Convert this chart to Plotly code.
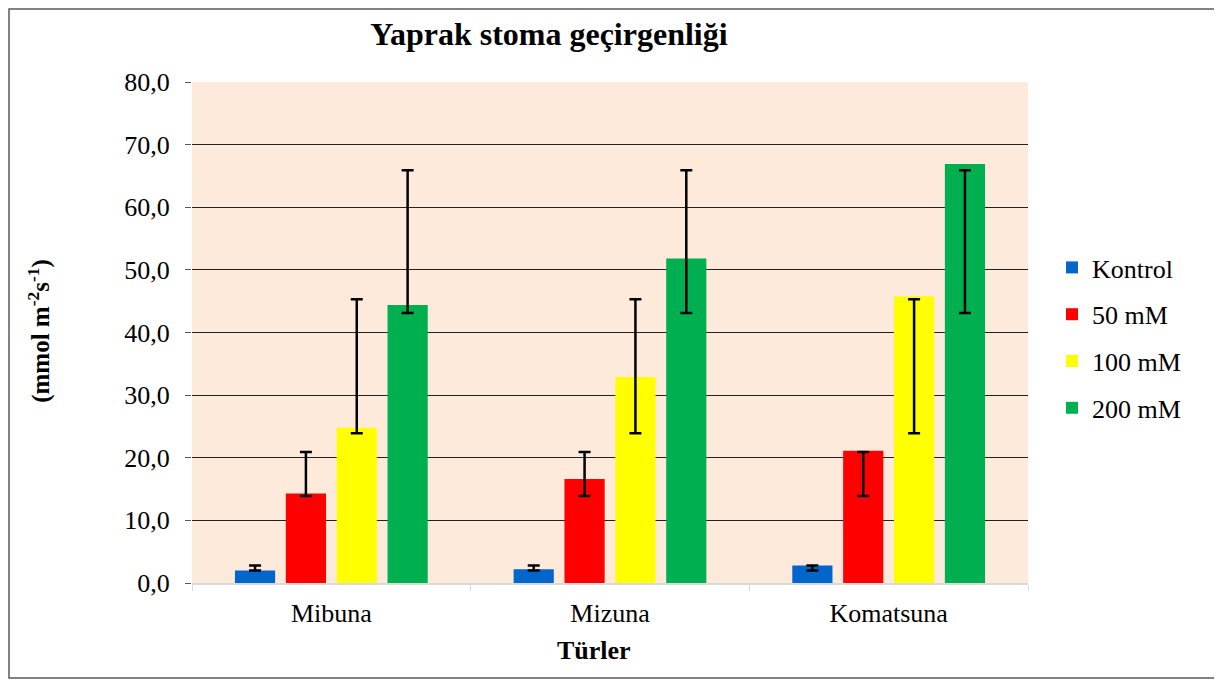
import plotly.graph_objects as go

# Data
species = ["Mibuna", "Mizuna", "Komatsuna"]
treatments = ["Kontrol", "50 mM", "100 mM", "200 mM"]
colors = ["#0066CC", "#FF0000", "#FFFF00", "#00B050"]

kontrol = [2.0, 2.2, 2.8]
mm50 = [14.3, 16.6, 21.1]
mm100 = [24.8, 32.9, 45.8]
mm200 = [44.4, 51.8, 66.9]

# error bar ends (same for every species in the source)
err_low = [2.0, 13.9, 23.9, 43.1]
err_high = [2.8, 20.9, 45.3, 65.9]

series = [kontrol, mm50, mm100, mm200]

font_family = "Liberation Serif, Times New Roman, serif"

fig = go.Figure()

for i, (name, vals, color) in enumerate(zip(treatments, series, colors)):
    # error ends are fixed, so the "plus" part can fall below the bar top
    plus = [err_high[i] - v for v in vals]
    minus = [v - err_low[i] for v in vals]
    fig.add_trace(go.Bar(
        x=species,
        y=vals,
        name=name,
        legendgroup=name,
        marker=dict(color=color, line=dict(width=0)),
        error_y=dict(type="data", symmetric=False, array=plus, arrayminus=minus,
                     color="black", thickness=2.5, width=6),
    ))

fig.update_layout(
    width=1222,
    height=682,
    barmode="group",
    bargap=0.27,
    bargroupgap=0.21,
    paper_bgcolor="white",
    plot_bgcolor="#FDEADA",
    separators=", ",
    font=dict(family=font_family, size=26, color="black"),
    margin=dict(l=184, r=202, t=74, b=107),
    title=dict(text="<b>Yaprak stoma geçirgenliği</b>", x=0.4427, xanchor="center",
               y=0.962, yanchor="middle", font=dict(family=font_family, size=32)),
    legend=dict(x=1.0287, xanchor="left", y=0.489, yanchor="middle",
                tracegroupgap=10, font=dict(family=font_family, size=26), itemwidth=30),
    showlegend=True,
)

fig.update_xaxes(
    showgrid=False,
    showline=True, linecolor="#D9D9D9", linewidth=1.5,
    ticks="outside", tickson="boundaries", ticklen=6, tickcolor="#D9D9D9",
    tickfont=dict(family=font_family, size=26),
    ticklabelstandoff=6,
)
fig.update_yaxes(
    range=[0, 80], dtick=10, tickformat=".1f",
    showgrid=True, gridcolor="#222222", gridwidth=1,
    zeroline=False, showline=False,
    ticks="outside", ticklen=6, tickcolor="#555555",
    tickfont=dict(family=font_family, size=26),
    ticklabelstandoff=10,
)

# axis titles
fig.add_annotation(text="<b>Türler</b>", xref="paper", yref="paper",
                   x=0.481, y=-0.134, showarrow=False, yanchor="middle",
                   font=dict(family=font_family, size=26))
fig.add_annotation(text="<b>(mmol m<sup>-2</sup>s<sup>-1</sup>)</b>", xref="paper", yref="paper",
                   x=-0.182, y=0.503, textangle=-90, showarrow=False,
                   xanchor="center", yanchor="middle",
                   font=dict(family=font_family, size=25))

# outer chart border
fig.add_shape(type="rect", xref="paper", yref="paper",
              x0=-0.2189, x1=1.2261, y0=-0.1896, y1=1.1457,
              line=dict(color="#595959", width=1.5))

fig.write_html("out.html")
